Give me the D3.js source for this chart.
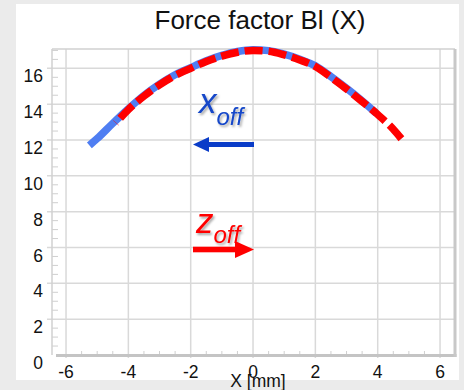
<!DOCTYPE html>
<html><head><meta charset="utf-8">
<script src="https://cdn.jsdelivr.net/npm/d3@7/dist/d3.min.js"></script>
<style>body{margin:0;background:#ebebeb;}svg{display:block;font-family:"Liberation Sans",Arial,sans-serif;}</style>
</head><body>
<script>
const title = "Force factor Bl (X)";
const xLabel = "X [mm]";
const xTicks = [-6, -4, -2, 0, 2, 4, 6];
const yTicks = [0, 2, 4, 6, 8, 10, 12, 14, 16];
// x_off curve (blue, solid)
const xoffX = [-5.25, -5, -4.5, -4, -3.5, -3, -2.5, -2, -1.5, -1, -0.5, 0, 0.5, 1, 1.5, 2, 2.5, 3, 3.5, 3.95];
const xoffY = [11.7, 12.08, 12.93, 13.74, 14.49, 15.12, 15.64, 16.04, 16.42, 16.72, 16.94, 17.04, 16.99, 16.79, 16.51, 16.14, 15.54, 14.89, 14.19, 13.5];
// z_off curve (red, dashed)
const zoffX = [-4.4, -4, -3.5, -3, -2.5, -2, -1.5, -1, -0.5, 0, 0.5, 1, 1.5, 2, 2.5, 3, 3.5, 4, 4.5, 4.76];
const zoffY = [12.95, 13.7, 14.45, 15.08, 15.6, 16.0, 16.38, 16.68, 16.9, 17.0, 16.95, 16.75, 16.47, 16.1, 15.5, 14.85, 14.15, 13.42, 12.6, 12.07];

const W = 464, H = 390;
const svg = d3.select("body").append("svg").attr("width", W).attr("height", H);
const defs = svg.append("defs");
const f = defs.append("filter").attr("id", "sh").attr("x", "-20%").attr("y", "-20%").attr("width", "150%").attr("height", "150%");
f.append("feDropShadow").attr("dx", 1.5).attr("dy", 2).attr("stdDeviation", 1.2).attr("flood-color", "#000").attr("flood-opacity", 0.35);

svg.append("rect").attr("x", 0).attr("y", 0).attr("width", W).attr("height", H).attr("fill", "#ebebeb");
svg.append("rect").attr("x", 16).attr("y", 4).attr("width", 443).attr("height", 376).attr("fill", "#fff");

const L = 52, R = 455, T = 49, B = 355;
const x = d3.scaleLinear().domain([-6.45, 6.48]).range([L, R]);
const y = d3.scaleLinear().domain([0, 17.08]).range([B, T]);

// grid
const g = svg.append("g");
g.selectAll(".vg").data(xTicks).join("line")
  .attr("x1", d => x(d)).attr("x2", d => x(d)).attr("y1", T).attr("y2", B + 3)
  .attr("stroke", "#d9d9d9").attr("stroke-width", 1.5);
g.selectAll(".hg").data(yTicks.filter(d => d > 0)).join("line")
  .attr("x1", L - 5).attr("x2", R).attr("y1", d => y(d)).attr("y2", d => y(d))
  .attr("stroke", "#d9d9d9").attr("stroke-width", 1.5);

// minor ticks
const xMinor = d3.range(-6.0, 6.01, 0.5).filter(v => !xTicks.includes(v));
g.selectAll(".xm").data(xMinor).join("line")
  .attr("x1", d => x(d)).attr("x2", d => x(d)).attr("y1", B - 4).attr("y2", B)
  .attr("stroke", "#cfcfcf").attr("stroke-width", 1);
const yMinor = d3.range(0.5, 17.01, 0.5).filter(v => !yTicks.includes(v));
g.selectAll(".ym").data(yMinor).join("line")
  .attr("x1", L).attr("x2", L + 6).attr("y1", d => y(d)).attr("y2", d => y(d))
  .attr("stroke", "#cfcfcf").attr("stroke-width", 1);

// frame
g.append("line").attr("x1", L).attr("x2", L).attr("y1", T).attr("y2", B).attr("stroke", "#d0d0d0").attr("stroke-width", 1.5);
g.append("line").attr("x1", L).attr("x2", R).attr("y1", T).attr("y2", T).attr("stroke", "#d0d0d0").attr("stroke-width", 1.5);
g.append("line").attr("x1", L + 4).attr("x2", R + 1.5).attr("y1", B + 0.5).attr("y2", B + 0.5).attr("stroke", "#c4c4c4").attr("stroke-width", 3);
g.append("line").attr("x1", R).attr("x2", R).attr("y1", T).attr("y2", B + 2).attr("stroke", "#c8c8c8").attr("stroke-width", 3);

// tick labels
svg.selectAll(".yl").data(yTicks).join("text")
  .attr("x", 43).attr("y", d => y(d) + 14).attr("text-anchor", "end")
  .attr("font-size", 17.5).attr("fill", "#111").text(d => d);
svg.selectAll(".xl").data(xTicks).join("text")
  .attr("x", d => x(d)).attr("y", 378).attr("text-anchor", "middle")
  .attr("font-size", 17.5).attr("fill", "#111").text(d => d);
svg.append("text").attr("x", 258).attr("y", 387).attr("text-anchor", "middle")
  .attr("font-size", 17.5).attr("fill", "#111").text(xLabel);
svg.append("text").attr("x", 260).attr("y", 29).attr("text-anchor", "middle")
  .attr("font-size", 26).attr("fill", "#111").text(title);

// curves
const line = d3.line().x(d => x(d[0])).y(d => y(d[1])).curve(d3.curveMonotoneX);
svg.append("path").datum(d3.zip(xoffX, xoffY)).attr("d", line)
  .attr("fill", "none").attr("stroke", "#4f7ef2").attr("stroke-width", 7.5);
// drawn right-to-left so the dash pattern ends on a full dash at the right end
const zLine = d3.line().x(d => x(d[0])).y(d => y(d[1])).curve(d3.curveMonotoneX);
svg.append("path").datum(d3.zip(zoffX, zoffY).reverse()).attr("d", zLine)
  .attr("fill", "none").attr("stroke", "#ff0000").attr("stroke-width", 7.5)
  .attr("stroke-dasharray", "18,6");

// annotations
const ann = svg.append("g").attr("filter", "url(#sh)");
const t1 = ann.append("text").attr("x", 199).attr("y", 113).attr("fill", "#1446c8").attr("font-style", "italic");
t1.append("tspan").attr("font-size", 35).text("x");
t1.append("tspan").attr("font-size", 24).attr("dy", 12).text("off");
const t2 = ann.append("text").attr("x", 196).attr("y", 233).attr("fill", "#ff0000").attr("font-style", "italic");
t2.append("tspan").attr("font-size", 35).text("z");
t2.append("tspan").attr("font-size", 24).attr("dy", 10).text("off");

// arrows
const bc = "#0a3cc8", ay1 = 144.5;
svg.append("rect").attr("x", 206).attr("y", ay1 - 2.5).attr("width", 48).attr("height", 5).attr("fill", bc);
svg.append("path").attr("d", `M193,${ay1} L209,${ay1 - 7.5} L209,${ay1 + 7.5} Z`).attr("fill", bc);
const ay2 = 249.5;
svg.append("rect").attr("x", 193).attr("y", ay2 - 2.8).attr("width", 44).attr("height", 5.6).attr("fill", "#ff0000");
svg.append("path").attr("d", `M254,${ay2} L235,${ay2 - 8.5} L235,${ay2 + 8.5} Z`).attr("fill", "#ff0000");
</script>
</body></html>
